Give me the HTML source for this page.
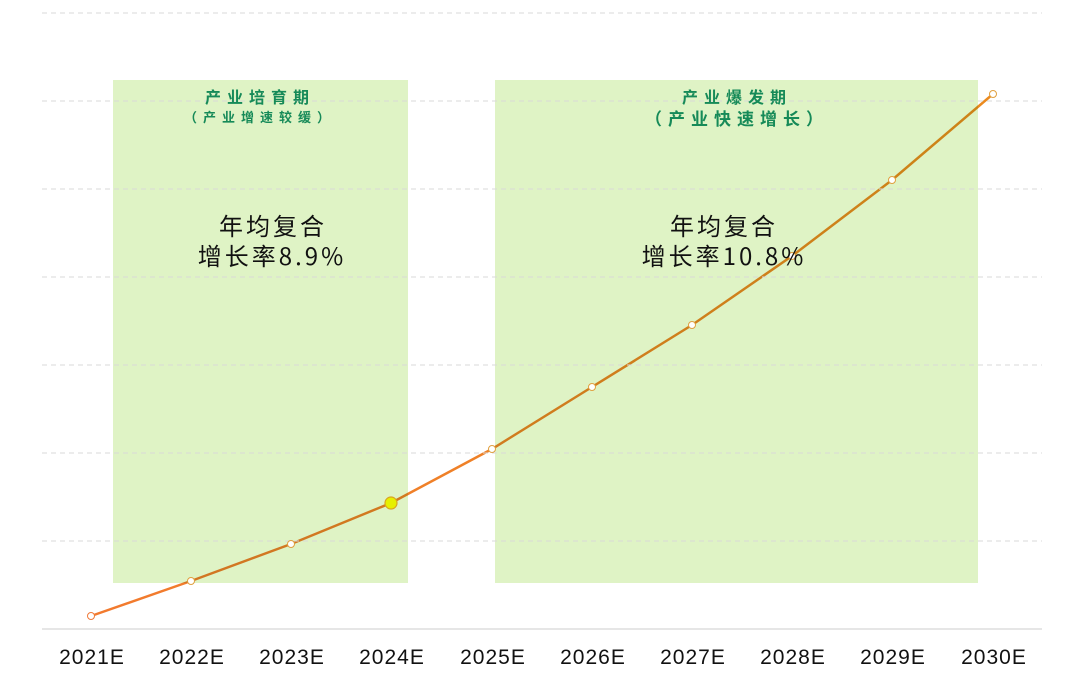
<!DOCTYPE html><html><head><meta charset="utf-8"><style>body{margin:0;background:#fff}svg{display:block}</style></head><body>
<svg width="1080" height="680" xmlns="http://www.w3.org/2000/svg" font-family="Liberation Sans, Noto Sans CJK SC, sans-serif">
<defs><linearGradient id="g" x1="0" x2="1"><stop offset="0" stop-color="#f27a2e"/><stop offset="1" stop-color="#eb8a1e"/></linearGradient></defs>
<polyline fill="none" stroke="url(#g)" stroke-width="2.5" points="91,616 191,581 291,544 391,503 492,449 592,387 692,325 792,256 892,180 993,94"/>
<rect x="113" y="80" width="295" height="503" fill="#dff3c5" style="mix-blend-mode:multiply"/>
<rect x="495" y="80" width="483" height="503" fill="#dff3c5" style="mix-blend-mode:multiply"/>
<g stroke="#d8d8d8" stroke-dasharray="5,4">
<line x1="42" x2="1042" y1="13" y2="13"/><line x1="42" x2="1042" y1="101" y2="101"/><line x1="42" x2="1042" y1="189" y2="189"/><line x1="42" x2="1042" y1="277" y2="277"/><line x1="42" x2="1042" y1="365" y2="365"/><line x1="42" x2="1042" y1="453" y2="453"/><line x1="42" x2="1042" y1="541" y2="541"/>
</g>
<line x1="42" x2="1042" y1="629" y2="629" stroke="#cccccc"/>
<g fill="#fff" stroke="#e0a040" stroke-width="1">
<circle cx="91" cy="616" r="3.5" stroke="#f07a3a"/><circle cx="191" cy="581" r="3.5"/><circle cx="291" cy="544" r="3.5"/><circle cx="492" cy="449" r="3.5"/><circle cx="592" cy="387" r="3.5"/><circle cx="692" cy="325" r="3.5"/><circle cx="792" cy="256" r="3.5"/><circle cx="892" cy="180" r="3.5"/><circle cx="993" cy="94" r="3.5"/>
</g>
<circle cx="391" cy="503" r="6" fill="#e6f000" stroke="#d9a520" stroke-width="1.2"/>
<g fill="#168a58" font-weight="bold" text-anchor="middle" font-family="Noto Sans CJK SC, sans-serif">
<text x="260" y="103" font-size="16" letter-spacing="6">产业培育期</text>
<text x="260" y="122" font-size="13" letter-spacing="6">（产业增速较缓）</text>
<text x="737" y="103" font-size="16" letter-spacing="6">产业爆发期</text>
<text x="737" y="125" font-size="17" letter-spacing="6">（产业快速增长）</text>
</g>
<g fill="#111" font-size="24" text-anchor="middle" letter-spacing="3" font-family="Noto Sans CJK SC, sans-serif">
<text x="273" y="235">年均复合</text><text x="272" y="265">增长率8.9%</text>
<text x="724" y="235">年均复合</text><text x="724" y="265">增长率10.8%</text>
</g>
<g fill="#111" font-size="21" text-anchor="middle" letter-spacing="1">
<text x="92" y="664">2021E</text><text x="192" y="664">2022E</text><text x="292" y="664">2023E</text><text x="392" y="664">2024E</text><text x="493" y="664">2025E</text><text x="593" y="664">2026E</text><text x="693" y="664">2027E</text><text x="793" y="664">2028E</text><text x="893" y="664">2029E</text><text x="994" y="664">2030E</text>
</g>
</svg></body></html>
